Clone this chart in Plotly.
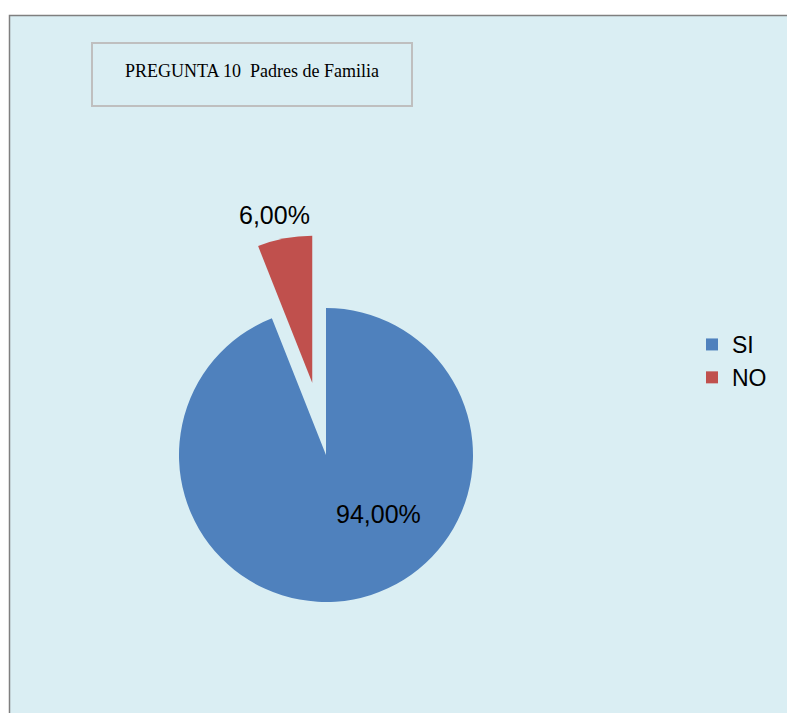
import plotly.graph_objects as go

# ---- data ----
categories = ["SI", "NO"]
values = [94, 6]
colors = ["#4F81BD", "#C0504D"]
pulls = [0, 0.5]
title_text = "PREGUNTA 10&nbsp;&nbsp;Padres de Familia"

W, H = 787, 713

def px(x):
    return x / W
def py(y):
    return 1 - y / H

total = sum(values)
fmt = lambda v: ("%.2f%%" % (v / total * 100)).replace(".", ",")

# pie geometry (px): centre (326, 455), radius 147, max pull 0.5
cx, cy, half = 326, 455, 220.5
dom_x = [(cx - half) / W, (cx + half) / W]
dom_y = [(H - cy - half) / H, (H - cy + half) / H]

fig = go.Figure()
fig.add_trace(go.Pie(
    labels=categories,
    values=values,
    sort=False,
    direction="clockwise",
    rotation=0,
    pull=pulls,
    marker=dict(colors=colors, line=dict(width=0)),
    textinfo="none",
    domain=dict(x=dom_x, y=dom_y),
    hoverinfo="label+percent",
))

shapes = [
    # chart area frame
    dict(type="rect", xref="paper", yref="paper", layer="below",
         x0=px(9.5), x1=1.1, y0=-0.1, y1=py(15.5),
         fillcolor="#DAEEF3", line=dict(color="#7F7F7F", width=1.5)),
    # title box
    dict(type="rect", xref="paper", yref="paper", layer="below",
         x0=px(92), x1=px(412), y0=py(106), y1=py(43),
         fillcolor="rgba(0,0,0,0)", line=dict(color="#BFBFBF", width=2)),
]

label_font = dict(family="Liberation Sans, Arial, sans-serif", size=25, color="#000000")
annotations = [
    dict(text=title_text, xref="paper", yref="paper", x=px(251.5), y=py(71),
         xanchor="center", yanchor="middle", showarrow=False,
         font=dict(family="Liberation Serif, Times New Roman, serif", size=18, color="#000000")),
    dict(text=fmt(values[0]), xref="paper", yref="paper", x=px(378), y=py(514),
         xanchor="center", yanchor="middle", showarrow=False, font=label_font),
    dict(text=fmt(values[1]), xref="paper", yref="paper", x=px(274), y=py(215),
         xanchor="center", yanchor="middle", showarrow=False, font=label_font),
]

fig.update_layout(
    width=W, height=H,
    autosize=False,
    margin=dict(l=0, r=0, t=0, b=0, pad=0, autoexpand=False),
    paper_bgcolor="#FFFFFF",
    plot_bgcolor="#FFFFFF",
    separators=",.",
    shapes=shapes,
    annotations=annotations,
    showlegend=True,
    legend=dict(x=px(692), y=py(361), xanchor="left", yanchor="middle",
                bgcolor="rgba(0,0,0,0)",
                font=dict(family="Liberation Sans, Arial, sans-serif", size=23, color="#000000")),
)

fig.write_html(
    "out.html",
    config={"displayModeBar": False},
    post_script="document.body.style.margin='0';document.body.style.overflow='hidden';",
)
